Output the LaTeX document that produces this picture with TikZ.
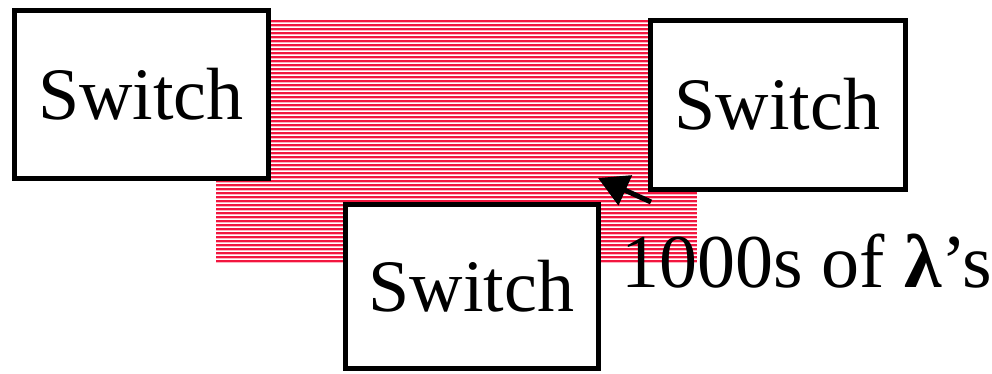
\documentclass[tikz,border=0pt]{standalone}
\usepackage{fontspec}
\setmainfont{Liberation Serif}
\usetikzlibrary{arrows.meta}
\definecolor{stripered}{HTML}{F2163F}
\definecolor{stripepink}{HTML}{FFB3C1}
\tikzset{
  switchbox/.style={draw=black, line width=5pt, fill=white, inner sep=0pt,
    font=\fontsize{74}{74}\selectfont},
  biglabel/.style={inner sep=0pt, font=\fontsize{76}{76}\selectfont, anchor=base west},
}
\begin{document}
\begin{tikzpicture}[x=1pt,y=-1pt]
  \useasboundingbox (0,0) rectangle (992,373);
  % striped band of wavelengths behind the switches
  \begin{scope}
    \clip (216,20) rectangle (697,263);
    \fill[stripepink] (216,20) rectangle (697,263);
    \foreach \k in {0,...,61} {
      \draw[stripered, line width=2.1pt] (216,21+4*\k) -- (697,21+4*\k);
      \draw[white, line width=0.8pt] (216,23+4*\k) -- (697,23+4*\k);
    }
  \end{scope}
  % the three switches
  \node[switchbox, minimum width=254pt, minimum height=168pt] (swl) at (141,94) {Switch};
  \node[switchbox, minimum width=255pt, minimum height=169pt] (swr) at (777.5,104.5) {Switch};
  \node[switchbox, minimum width=253pt, minimum height=164pt] (swb) at (471.5,286) {Switch};
  % label and pointer
  \node[biglabel] (lbl) at (621,287) {1000s of {\bfseries λ}’s};
  \coordinate (tail) at (651,202);
  \coordinate (tip) at (598,178);
  \draw[line width=5pt, -{Triangle[length=30pt,width=32pt]}] (tail) -- (tip);
\end{tikzpicture}
\end{document}
